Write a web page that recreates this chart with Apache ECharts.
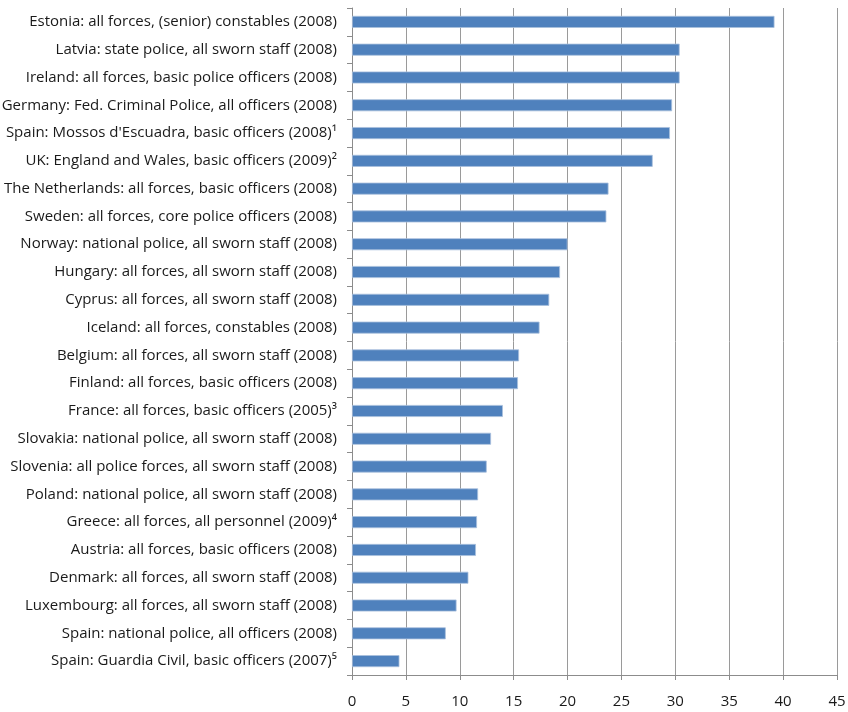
<!DOCTYPE html>
<html><head><meta charset="utf-8">
<script src="https://cdn.jsdelivr.net/npm/echarts@6/dist/echarts.min.js"></script>
<style>html,body{margin:0;padding:0;background:#fff}#c{width:848px;height:712px}</style>
</head><body><div id="c"></div>
<script>
const categories = [
  "Estonia: all forces, (senior) constables (2008)",
  "Latvia: state police, all sworn staff (2008)",
  "Ireland: all forces, basic police officers (2008)",
  "Germany: Fed. Criminal Police, all officers (2008)",
  "Spain: Mossos d'Escuadra, basic officers (2008)\u00b9",
  "UK: England and Wales, basic officers (2009)\u00b2",
  "The Netherlands: all forces, basic officers (2008)",
  "Sweden: all forces, core police officers (2008)",
  "Norway: national police, all sworn staff (2008)",
  "Hungary: all forces, all sworn staff (2008)",
  "Cyprus: all forces, all sworn staff (2008)",
  "Iceland: all forces, constables (2008)",
  "Belgium: all forces, all sworn staff (2008)",
  "Finland: all forces, basic officers (2008)",
  "France: all forces, basic officers (2005)\u00b3",
  "Slovakia: national police, all sworn staff (2008)",
  "Slovenia: all police forces, all sworn staff (2008)",
  "Poland: national police, all sworn staff (2008)",
  "Greece: all forces, all personnel (2009)\u2074",
  "Austria: all forces, basic officers (2008)",
  "Denmark: all forces, all sworn staff (2008)",
  "Luxembourg: all forces, all sworn staff (2008)",
  "Spain: national police, all officers (2008)",
  "Spain: Guardia Civil, basic officers (2007)\u2075"
];
const values = [39.2, 30.4, 30.4, 29.7, 29.5, 27.9, 23.8, 23.6, 20.0, 19.3, 18.3, 17.4, 15.5, 15.4, 14.0, 12.9, 12.5, 11.7, 11.6, 11.5, 10.8, 9.7, 8.7, 4.4];
const xTicks = {min: 0, max: 45, interval: 5};

const chart = echarts.init(document.getElementById('c'), null, {renderer: 'canvas'});
const font = 'Open Sans';
chart.setOption({
  animation: false,
  grid: {left: 352, right: 11, top: 8, bottom: 37, containLabel: false, outerBoundsMode: 'none'},
  xAxis: {
    type: 'value', min: xTicks.min, max: xTicks.max, interval: xTicks.interval,
    axisLine: {show: true, lineStyle: {color: '#8c8c8c', width: 1}},
    axisTick: {show: true, length: 5, lineStyle: {color: '#8c8c8c'}},
    splitLine: {show: true, lineStyle: {color: '#9a9a9a', width: 1}},
    axisLabel: {color: '#1a1a1a', fontFamily: font, fontSize: 15, margin: 19}
  },
  yAxis: {
    type: 'category', data: categories, inverse: true,
    axisLine: {show: true, lineStyle: {color: '#8c8c8c', width: 1}},
    axisTick: {show: true, length: 5, lineStyle: {color: '#8c8c8c'}},
    axisLabel: {color: '#1a1a1a', fontFamily: font, fontSize: 15, margin: 15}
  },
  series: [{
    type: 'bar', data: values, barWidth: 12,
    itemStyle: {color: '#4f81bd', borderColor: '#a9c0dd', borderWidth: 0.8}
  }]
});
</script></body></html>
